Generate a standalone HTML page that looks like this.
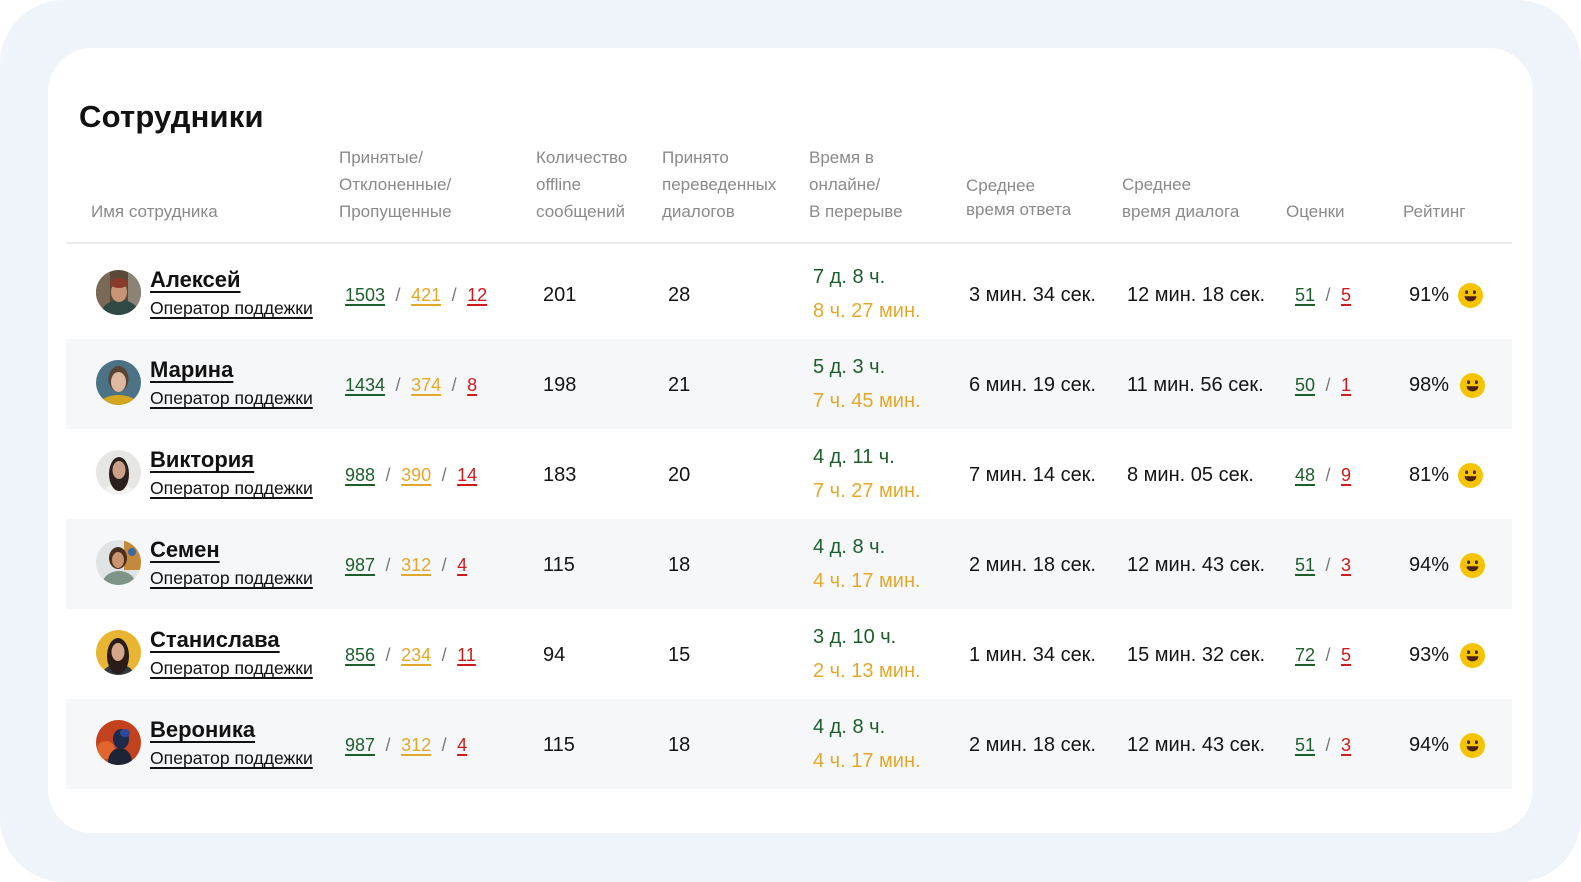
<!DOCTYPE html>
<html lang="ru">
<head>
<meta charset="utf-8">
<style>
  html,body{margin:0;padding:0;width:1581px;height:882px;background:#ffffff;overflow:hidden;}
  body{position:relative;font-family:"Liberation Sans","Noto Sans CJK SC",sans-serif;}
  *{text-decoration-skip-ink:none;}
  .bg{position:absolute;left:0;top:0;width:1581px;height:882px;border-radius:64px;background:#eff4fb;}
  .card{position:absolute;left:48px;top:48px;width:1485px;height:785px;border-radius:44px;background:#ffffff;}
  .title{position:absolute;left:79px;top:100.8px;font-weight:bold;font-size:31px;line-height:31px;color:#111;letter-spacing:0.2px;}
  .hd{position:absolute;font-size:17px;line-height:27px;color:#8a8a8a;white-space:nowrap;}
  .hline{position:absolute;left:66px;top:242px;width:1446px;height:2px;background:#ececec;}
  .stripe{position:absolute;left:66px;width:1446px;height:90px;background:#f6f7f9;}
  .row{position:absolute;left:0;width:1581px;height:90px;}
  .row > *{position:absolute;white-space:nowrap;}
  .av{left:96px;top:21px;width:45px;height:45px;}
  .nm{left:150px;top:20.4px;font-weight:bold;font-size:22px;line-height:22px;color:#111;text-decoration:underline;text-underline-offset:4px;text-decoration-thickness:2px;text-decoration-skip-ink:none;}
  .sub{left:150px;top:51px;font-size:17.6px;line-height:17.6px;color:#111;text-decoration:underline;text-underline-offset:3px;text-decoration-thickness:1.5px;text-decoration-skip-ink:none;}
  .nums{top:36.8px;font-size:18px;line-height:18px;}
  .nums span{text-decoration:underline;text-underline-offset:2.5px;text-decoration-thickness:1.5px;text-decoration-skip-ink:none;}
  .nums i{font-style:normal;color:#777;display:inline-block;margin:0 10.5px;text-decoration:none;}
  .g{color:#1d5e2c;}
  .y{color:#e2a82b;}
  .r{color:#cc1b1b;}
  .d{top:36.1px;font-size:20px;line-height:20px;color:#141414;}
  .t1{left:813px;top:18.1px;font-size:20px;line-height:20px;color:#1d5e2c;}
  .t2{left:813px;top:52.1px;font-size:20px;line-height:20px;color:#e2a82b;}
  .rt{left:1409px;top:36.1px;font-size:20px;line-height:20px;color:#141414;}
  .emo{top:33.5px;left:1458px;width:25px;height:25px;}
</style>
</head>
<body>
<div class="bg"></div>
<div class="card"></div>

<div class="title">Сотрудники</div>

<div class="hd" style="left:91px;top:197.6px;">Имя сотрудника</div>
<div class="hd" style="left:339px;top:143.6px;">Принятые/<br>Отклоненные/<br>Пропущенные</div>
<div class="hd" style="left:536px;top:143.6px;">Количество<br>offline<br>сообщений</div>
<div class="hd" style="left:662px;top:143.6px;">Принято<br>переведенных<br>диалогов</div>
<div class="hd" style="left:809px;top:143.6px;">Время в<br>онлайне/<br>В перерыве</div>
<div class="hd" style="left:966px;top:173.6px;line-height:24px;">Среднее<br>время ответа</div>
<div class="hd" style="left:1122px;top:170.6px;">Среднее<br>время диалога</div>
<div class="hd" style="left:1286px;top:197.6px;">Оценки</div>
<div class="hd" style="left:1403px;top:197.6px;">Рейтинг</div>

<div class="hline"></div>

<div class="stripe" style="top:339px;"></div>
<div class="stripe" style="top:519px;"></div>
<div class="stripe" style="top:699px;"></div>

<svg width="0" height="0" style="position:absolute">
  <defs>
    <clipPath id="cc"><circle cx="22.5" cy="22.5" r="22.5"/></clipPath>
    <symbol id="smile" viewBox="0 0 25 25">
      <circle cx="12.5" cy="12.5" r="12.5" fill="#f6c300"/>
      <ellipse cx="8.6" cy="9.2" rx="1.5" ry="1.8" fill="#3b2712"/>
      <ellipse cx="16.4" cy="9.2" rx="1.5" ry="1.8" fill="#3b2712"/>
      <path d="M6.6 13.2 H18.4 A5.9 5.2 0 0 1 6.6 13.2 Z" fill="#4a220c"/>
    </symbol>
  </defs>
</svg>

<!-- Row 1 -->
<div class="row" style="top:249px;">
  <svg class="av" viewBox="0 0 45 45"><g clip-path="url(#cc)">
    <rect width="45" height="45" fill="#5b4a3a"/>
    <rect x="0" y="0" width="14" height="45" fill="#7a6a55"/>
    <rect x="32" y="0" width="13" height="45" fill="#8b8375"/>
    <ellipse cx="24" cy="42" rx="18" ry="12" fill="#2f4a44"/>
    <ellipse cx="23" cy="22" rx="8" ry="10" fill="#c79576"/>
    <ellipse cx="23" cy="13" rx="9" ry="5" fill="#8a3a2a"/>
  </g></svg>
  <div class="nm">Алексей</div>
  <div class="sub">Оператор поддежки</div>
  <div class="nums" style="left:345px;"><span class="g">1503</span><i>/</i><span class="y">421</span><i>/</i><span class="r">12</span></div>
  <div class="d" style="left:543px;">201</div>
  <div class="d" style="left:668px;">28</div>
  <div class="t1">7 д. 8 ч.</div>
  <div class="t2">8 ч. 27 мин.</div>
  <div class="d" style="left:969px;">3 мин. 34 сек.</div>
  <div class="d" style="left:1127px;">12 мин. 18 сек.</div>
  <div class="nums" style="left:1295px;"><span class="g">51</span><i>/</i><span class="r">5</span></div>
  <div class="rt">91%</div>
  <svg class="emo"><use href="#smile"/></svg>
</div>

<!-- Row 2 -->
<div class="row" style="top:339px;">
  <svg class="av" viewBox="0 0 45 45"><g clip-path="url(#cc)">
    <rect width="45" height="45" fill="#4c7285"/>
    <ellipse cx="22.5" cy="46" rx="20" ry="11" fill="#d4a51f"/>
    <ellipse cx="22.5" cy="19" rx="10" ry="13" fill="#5a4334"/>
    <ellipse cx="22.5" cy="22" rx="7.5" ry="10" fill="#dcb9a0"/>
  </g></svg>
  <div class="nm">Марина</div>
  <div class="sub">Оператор поддежки</div>
  <div class="nums" style="left:345px;"><span class="g">1434</span><i>/</i><span class="y">374</span><i>/</i><span class="r">8</span></div>
  <div class="d" style="left:543px;">198</div>
  <div class="d" style="left:668px;">21</div>
  <div class="t1">5 д. 3 ч.</div>
  <div class="t2">7 ч. 45 мин.</div>
  <div class="d" style="left:969px;">6 мин. 19 сек.</div>
  <div class="d" style="left:1127px;">11 мин. 56 сек.</div>
  <div class="nums" style="left:1295px;"><span class="g">50</span><i>/</i><span class="r">1</span></div>
  <div class="rt">98%</div>
  <svg class="emo" style="left:1460px;"><use href="#smile"/></svg>
</div>

<!-- Row 3 -->
<div class="row" style="top:429px;">
  <svg class="av" viewBox="0 0 45 45"><g clip-path="url(#cc)">
    <rect width="45" height="45" fill="#e6e6e4"/>
    <ellipse cx="23" cy="46" rx="17" ry="12" fill="#f4f2ef"/>
    <ellipse cx="23" cy="24" rx="10" ry="17" fill="#2a1f1c"/>
    <ellipse cx="23" cy="20" rx="6.5" ry="9" fill="#caa088"/>
  </g></svg>
  <div class="nm">Виктория</div>
  <div class="sub">Оператор поддежки</div>
  <div class="nums" style="left:345px;"><span class="g">988</span><i>/</i><span class="y">390</span><i>/</i><span class="r">14</span></div>
  <div class="d" style="left:543px;">183</div>
  <div class="d" style="left:668px;">20</div>
  <div class="t1">4 д. 11 ч.</div>
  <div class="t2">7 ч. 27 мин.</div>
  <div class="d" style="left:969px;">7 мин. 14 сек.</div>
  <div class="d" style="left:1127px;">8 мин. 05 сек.</div>
  <div class="nums" style="left:1295px;"><span class="g">48</span><i>/</i><span class="r">9</span></div>
  <div class="rt">81%</div>
  <svg class="emo"><use href="#smile"/></svg>
</div>

<!-- Row 4 -->
<div class="row" style="top:519px;">
  <svg class="av" viewBox="0 0 45 45"><g clip-path="url(#cc)">
    <rect width="45" height="45" fill="#dfe3e4"/>
    <rect x="28" y="0" width="17" height="30" fill="#c28a3a"/>
    <circle cx="36" cy="12" r="4" fill="#3a6aa0"/>
    <ellipse cx="23" cy="45" rx="17" ry="14" fill="#7f9486"/>
    <ellipse cx="22" cy="18" rx="9" ry="11" fill="#4a2e1c"/>
    <ellipse cx="22" cy="20" rx="6" ry="8" fill="#c9946e"/>
  </g></svg>
  <div class="nm">Семен</div>
  <div class="sub">Оператор поддежки</div>
  <div class="nums" style="left:345px;"><span class="g">987</span><i>/</i><span class="y">312</span><i>/</i><span class="r">4</span></div>
  <div class="d" style="left:543px;">115</div>
  <div class="d" style="left:668px;">18</div>
  <div class="t1">4 д. 8 ч.</div>
  <div class="t2">4 ч. 17 мин.</div>
  <div class="d" style="left:969px;">2 мин. 18 сек.</div>
  <div class="d" style="left:1127px;">12 мин. 43 сек.</div>
  <div class="nums" style="left:1295px;"><span class="g">51</span><i>/</i><span class="r">3</span></div>
  <div class="rt">94%</div>
  <svg class="emo" style="left:1460px;"><use href="#smile"/></svg>
</div>

<!-- Row 5 -->
<div class="row" style="top:609px;">
  <svg class="av" viewBox="0 0 45 45"><g clip-path="url(#cc)">
    <rect width="45" height="45" fill="#e7b532"/>
    <ellipse cx="22" cy="46" rx="16" ry="12" fill="#2e3a40"/>
    <ellipse cx="22" cy="26" rx="11" ry="18" fill="#2a1c18"/>
    <ellipse cx="22" cy="22" rx="6.5" ry="9" fill="#d4a68a"/>
  </g></svg>
  <div class="nm">Станислава</div>
  <div class="sub">Оператор поддежки</div>
  <div class="nums" style="left:345px;"><span class="g">856</span><i>/</i><span class="y">234</span><i>/</i><span class="r">11</span></div>
  <div class="d" style="left:543px;">94</div>
  <div class="d" style="left:668px;">15</div>
  <div class="t1">3 д. 10 ч.</div>
  <div class="t2">2 ч. 13 мин.</div>
  <div class="d" style="left:969px;">1 мин. 34 сек.</div>
  <div class="d" style="left:1127px;">15 мин. 32 сек.</div>
  <div class="nums" style="left:1295px;"><span class="g">72</span><i>/</i><span class="r">5</span></div>
  <div class="rt">93%</div>
  <svg class="emo" style="left:1460px;"><use href="#smile"/></svg>
</div>

<!-- Row 6 -->
<div class="row" style="top:699px;">
  <svg class="av" viewBox="0 0 45 45"><g clip-path="url(#cc)">
    <rect width="45" height="45" fill="#c3421e"/>
    <circle cx="10" cy="30" r="9" fill="#e0662e"/>
    <ellipse cx="24" cy="42" rx="12" ry="14" fill="#1c2438"/>
    <ellipse cx="25" cy="19" rx="8" ry="10" fill="#1e2a4a"/>
    <ellipse cx="29" cy="13" rx="5" ry="4" fill="#2c4a9a"/>
  </g></svg>
  <div class="nm">Вероника</div>
  <div class="sub">Оператор поддежки</div>
  <div class="nums" style="left:345px;"><span class="g">987</span><i>/</i><span class="y">312</span><i>/</i><span class="r">4</span></div>
  <div class="d" style="left:543px;">115</div>
  <div class="d" style="left:668px;">18</div>
  <div class="t1">4 д. 8 ч.</div>
  <div class="t2">4 ч. 17 мин.</div>
  <div class="d" style="left:969px;">2 мин. 18 сек.</div>
  <div class="d" style="left:1127px;">12 мин. 43 сек.</div>
  <div class="nums" style="left:1295px;"><span class="g">51</span><i>/</i><span class="r">3</span></div>
  <div class="rt">94%</div>
  <svg class="emo" style="left:1460px;"><use href="#smile"/></svg>
</div>

</body>
</html>
